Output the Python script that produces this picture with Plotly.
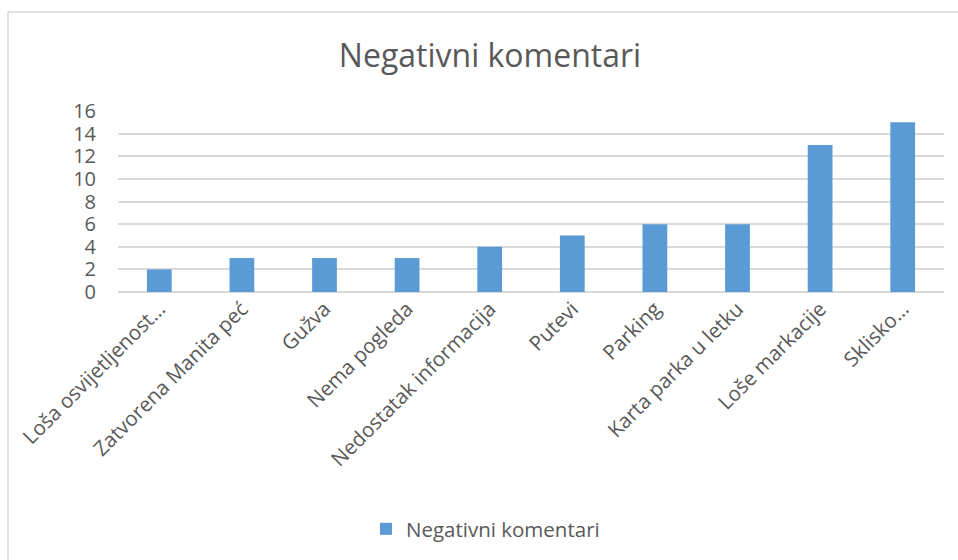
import plotly.graph_objects as go

categories = ["Loša osvijetljenost…", "Zatvorena Manita peć", "Gužva", "Nema pogleda",
              "Nedostatak informacija", "Putevi", "Parking", "Karta parka u letku",
              "Loše markacije", "Sklisko…"]
values = [2, 3, 3, 3, 4, 5, 6, 6, 13, 15]
series_name = "Negativni komentari"
y_ticks = [0, 2, 4, 6, 8, 10, 12, 14, 16]

W, H = 958, 560
L, R, T, B = 118, 14, 111, 268
FONT = "Open Sans"
TXT = "#595959"
PW, PH = W - L - R, H - T - B

fig = go.Figure(go.Bar(x=categories, y=values, name=series_name,
                       marker=dict(color="#5B9BD5", line=dict(width=0)),
                       showlegend=True))

fig.update_layout(
    width=W, height=H,
    paper_bgcolor="white", plot_bgcolor="white",
    margin=dict(l=L, r=R, t=T, b=B, pad=0),
    font=dict(family=FONT, color=TXT, size=20),
    title=dict(text="Negativni komentari", x=490 / W, xanchor="center",
               y=1 - 56 / H, yanchor="middle",
               font=dict(family=FONT, size=32, color=TXT)),
    bargap=0.70,
    xaxis=dict(tickangle=-45, showgrid=False, showline=False, ticks="",
               tickfont=dict(size=20.5, color=TXT), automargin=False),
    yaxis=dict(range=[0, 16], tickvals=y_ticks, showgrid=True, gridcolor="#D9D9D9",
               gridwidth=1.5, zeroline=True, zerolinecolor="#D9D9D9", zerolinewidth=1.5,
               showline=False, ticks="", tickfont=dict(size=20, color=TXT),
               ticklabelstandoff=21, automargin=False),
    legend=dict(orientation="h", x=(366 - L) / PW, xanchor="left", y=(H - B - 529) / PH,
                yref="paper", yanchor="middle", font=dict(size=20.5, color=TXT),
                itemwidth=30, bgcolor="rgba(0,0,0,0)"),
    shapes=[dict(type="rect", xref="paper", yref="paper",
                 x0=(8 - L) / PW, x1=(W + 20 - L) / PW,
                 y0=-3, y1=(H - 12 - B) / PH,
                 line=dict(color="#D9D9D9", width=1.5), fillcolor="rgba(0,0,0,0)", layer="below")],
)

fig.write_html("out.html", config={"displayModeBar": False},
               post_script="document.body.style.margin='0';document.body.style.overflow='hidden';")
